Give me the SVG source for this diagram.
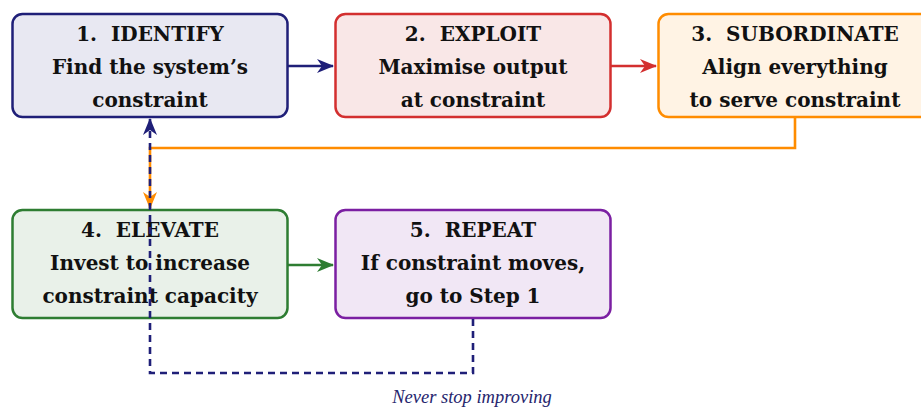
<svg xmlns="http://www.w3.org/2000/svg" width="921" height="407" viewBox="0 0 921 407">
<style>
.box{stroke-width:2.5}
.t{font-family:"DejaVu Serif","Liberation Serif",serif;font-weight:bold;font-size:20px;fill:#111;text-anchor:middle}
.lbl{font-family:"Liberation Serif","Times New Roman",serif;font-style:italic;font-size:18.5px;fill:#26266e;text-anchor:middle}
.c{fill:none;stroke-width:2.6}
</style>
<defs>
<marker id="aN" markerWidth="17" markerHeight="14" refX="16" refY="7" orient="auto" markerUnits="userSpaceOnUse"><path d="M0,0 L17,7 L0,14 L5,7 z" fill="#1f1f78"/></marker>
<marker id="aR" markerWidth="17" markerHeight="14" refX="16" refY="7" orient="auto" markerUnits="userSpaceOnUse"><path d="M0,0 L17,7 L0,14 L5,7 z" fill="#d32f2f"/></marker>
<marker id="aG" markerWidth="17" markerHeight="14" refX="16" refY="7" orient="auto" markerUnits="userSpaceOnUse"><path d="M0,0 L17,7 L0,14 L5,7 z" fill="#2e7d32"/></marker>
<marker id="aO" markerWidth="17" markerHeight="14" refX="16" refY="7" orient="auto" markerUnits="userSpaceOnUse"><path d="M0,0 L17,7 L0,14 L5,7 z" fill="#ff8c00"/></marker>
</defs>
<g id="n1">
<rect class="box" x="12.5" y="14" width="275" height="103" rx="10" fill="#e8e8f2" stroke="#1f1f78"/>
<text class="t" x="150" y="41">1.&#160; IDENTIFY</text>
<text class="t" x="150" y="74">Find the system’s</text>
<text class="t" x="150" y="107">constraint</text>
</g>
<g id="n2">
<rect class="box" x="335.5" y="14" width="275" height="103" rx="10" fill="#f9e7e7" stroke="#d32f2f"/>
<text class="t" x="473" y="41">2.&#160; EXPLOIT</text>
<text class="t" x="473" y="74">Maximise output</text>
<text class="t" x="473" y="107">at constraint</text>
</g>
<g id="n3">
<rect class="box" x="658.5" y="14" width="275" height="103" rx="10" fill="#fff3e4" stroke="#ff8c00"/>
<text class="t" x="795" y="41">3.&#160; SUBORDINATE</text>
<text class="t" x="795" y="74">Align everything</text>
<text class="t" x="795" y="107">to serve constraint</text>
</g>
<g id="n4">
<rect class="box" x="12.5" y="210" width="275" height="108" rx="10" fill="#e9f1e9" stroke="#2e7d32"/>
<text class="t" x="150" y="237">4.&#160; ELEVATE</text>
<text class="t" x="150" y="270">Invest to increase</text>
<text class="t" x="150" y="303">constraint capacity</text>
</g>
<g id="n5">
<rect class="box" x="335.5" y="210" width="275" height="108" rx="10" fill="#f1e7f5" stroke="#7b1fa2"/>
<text class="t" x="473" y="237">5.&#160; REPEAT</text>
<text class="t" x="473" y="270">If constraint moves,</text>
<text class="t" x="473" y="303">go to Step 1</text>
</g>
<g id="connectors">
<path class="c" d="M288,66 L333,66" stroke="#1f1f78" marker-end="url(#aN)"/>
<path class="c" d="M611,66 L656,66" stroke="#d32f2f" marker-end="url(#aR)"/>
<path class="c" d="M288,265 L333,265" stroke="#2e7d32" marker-end="url(#aG)"/>
<path class="c" d="M795,118 L795,148 L150,148 L150,208" stroke="#ff8c00" marker-end="url(#aO)"/>
<path class="c" d="M473,319 L473,373 L150,373 L150,119" stroke="#1f1f78" stroke-width="2.2" stroke-dasharray="7,5" marker-end="url(#aN)"/>
<text class="lbl" x="472" y="403">Never stop improving</text>
</g>
</svg>
